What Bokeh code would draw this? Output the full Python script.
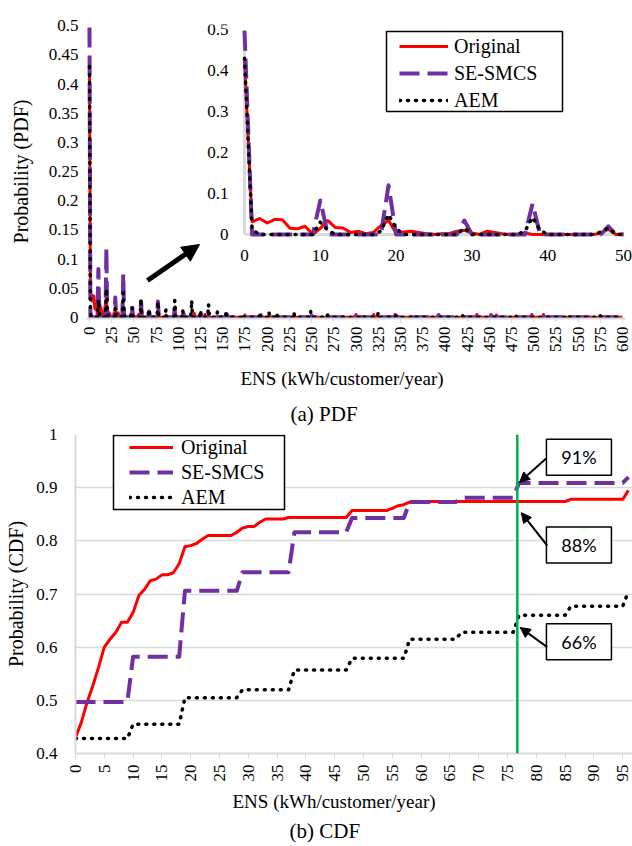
import math
from bokeh.plotting import figure
from bokeh.models import (Range1d, FixedTicker, Legend, LegendItem, Arrow, NormalHead,
                          Span, Title)
from bokeh.core.properties import value
from bokeh.embed import file_html
from bokeh.resources import INLINE

# ---------------- data ----------------
series_names = ["Original", "SE-SMCS", "AEM"]
series_colors = ["#ff0000", "#7030a0", "#000000"]

# (a) PDF: non-zero probability points (ENS, probability); all other ENS values are 0
pdf_ens_max = 600
orig_pdf_ens = [0, 1, 2, 3, 4, 5, 6, 7, 8, 10, 11, 12, 13, 14, 15, 16, 17, 18, 19, 20, 21, 22, 23, 24,
                26, 27, 28, 29, 30, 32, 33, 34, 37, 47, 48, 50, 55, 56, 57, 58, 86, 96, 105, 118, 130,
                175, 211, 250, 300, 320, 344, 436, 458, 498, 511]
orig_pdf_prob = [0.425, 0.031, 0.039, 0.028, 0.037, 0.036, 0.015, 0.014, 0.020, 0.015, 0.034, 0.017,
                 0.016, 0.005, 0.008, 0.002, 0.005, 0.022, 0.035, 0.003, 0.006, 0.008, 0.005, 0.002,
                 0.002, 0.002, 0.008, 0.010, 0.004, 0.008, 0.005, 0.002, 0.004, 0.003, 0.013, 0.002,
                 0.004, 0.006, 0.003, 0.006, 0.004, 0.017, 0.006, 0.007, 0.005,
                 0.004, 0.004, 0.003, 0.005, 0.005, 0.005, 0.005, 0.004, 0.005, 0.005]
se_pdf_ens = [0, 10, 19, 29, 38, 48, 58, 67, 77, 96, 106, 115, 125, 134, 250, 393, 452]
se_pdf_prob = [0.497, 0.083, 0.120, 0.034, 0.075, 0.020, 0.027, 0.010, 0.027, 0.015, 0.006, 0.005,
               0.005, 0.004, 0.003, 0.004, 0.004]
aem_pdf_ens = [0, 1, 10, 11, 18, 19, 20, 29, 37, 38, 39, 47, 48, 58, 67, 77, 86, 96, 105, 115, 125,
               134, 144, 154, 173, 192, 202, 211, 230, 249, 268, 307, 325, 345, 365, 420, 480, 540, 575]
aem_pdf_prob = [0.430, 0.012, 0.030, 0.010, 0.008, 0.049, 0.015, 0.016, 0.008, 0.042, 0.010, 0.006,
                0.016, 0.032, 0.014, 0.027, 0.013, 0.029, 0.012, 0.029, 0.012, 0.022, 0.009, 0.012,
                0.005, 0.009, 0.009, 0.006, 0.009, 0.010, 0.004, 0.003, 0.008, 0.003, 0.003, 0.003,
                0.003, 0.003, 0.003]

pdf_x_ticks = [0, 25, 50, 75, 100, 125, 150, 175, 200, 225, 250, 275, 300, 325, 350, 375, 400,
               425, 450, 475, 500, 525, 550, 575, 600]
pdf_y_ticks = [0, 0.05, 0.1, 0.15, 0.2, 0.25, 0.3, 0.35, 0.4, 0.45, 0.5]
pdf_y_labels = ["0", "0.05", "0.1", "0.15", "0.2", "0.25", "0.3", "0.35", "0.4", "0.45", "0.5"]
inset_ens_max = 50
inset_x_ticks = [0, 10, 20, 30, 40, 50]
inset_x_labels = ["0", "10", "20", "30", "40", "50"]
inset_y_ticks = [0, 0.1, 0.2, 0.3, 0.4, 0.5]
inset_y_labels = ["0", "0.1", "0.2", "0.3", "0.4", "0.5"]

# (b) CDF, ENS = 0..96
cdf_ens = list(range(0, 97))
orig_cdf = [0.430, 0.458, 0.496, 0.527, 0.562, 0.600, 0.615, 0.628, 0.647, 0.647,
            0.665, 0.697, 0.709, 0.725, 0.728, 0.736, 0.736, 0.740, 0.757, 0.789,
            0.791, 0.795, 0.803, 0.810, 0.810, 0.810, 0.810, 0.810, 0.816, 0.824,
            0.827, 0.827, 0.835, 0.841, 0.841, 0.841, 0.841, 0.844, 0.844, 0.844,
            0.844, 0.844, 0.844, 0.844, 0.844, 0.844, 0.844, 0.844, 0.857, 0.857,
            0.857, 0.857, 0.857, 0.857, 0.857, 0.861, 0.866, 0.868, 0.873, 0.874,
            0.874, 0.874, 0.874, 0.874, 0.874, 0.874, 0.874, 0.874, 0.874, 0.874,
            0.874, 0.874, 0.874, 0.874, 0.874, 0.874, 0.874, 0.874, 0.874, 0.874,
            0.874, 0.874, 0.874, 0.874, 0.874, 0.874, 0.878, 0.878, 0.878, 0.878,
            0.878, 0.878, 0.878, 0.878, 0.878, 0.878, 0.895]
se_cdf = [0.497, 0.497, 0.497, 0.497, 0.497, 0.497, 0.497, 0.497, 0.497, 0.497,
          0.582, 0.582, 0.582, 0.582, 0.582, 0.582, 0.582, 0.582, 0.582, 0.706,
          0.706, 0.706, 0.706, 0.706, 0.706, 0.706, 0.706, 0.706, 0.706, 0.741,
          0.741, 0.741, 0.741, 0.741, 0.741, 0.741, 0.741, 0.741, 0.816, 0.816,
          0.816, 0.816, 0.816, 0.816, 0.816, 0.816, 0.816, 0.816, 0.843, 0.843,
          0.843, 0.843, 0.843, 0.843, 0.843, 0.843, 0.843, 0.843, 0.873, 0.873,
          0.873, 0.873, 0.873, 0.873, 0.873, 0.873, 0.873, 0.881, 0.881, 0.881,
          0.881, 0.881, 0.881, 0.881, 0.881, 0.881, 0.881, 0.909, 0.909, 0.909,
          0.909, 0.909, 0.909, 0.909, 0.909, 0.909, 0.909, 0.909, 0.909, 0.909,
          0.909, 0.909, 0.909, 0.909, 0.909, 0.909, 0.920]
aem_cdf = [0.428, 0.428, 0.428, 0.428, 0.428, 0.428, 0.428, 0.428, 0.428, 0.428,
           0.455, 0.455, 0.455, 0.455, 0.455, 0.455, 0.455, 0.455, 0.455, 0.505,
           0.505, 0.505, 0.505, 0.505, 0.505, 0.505, 0.505, 0.505, 0.505, 0.520,
           0.520, 0.520, 0.520, 0.520, 0.520, 0.520, 0.520, 0.520, 0.557, 0.557,
           0.557, 0.557, 0.557, 0.557, 0.557, 0.557, 0.557, 0.557, 0.579, 0.579,
           0.579, 0.579, 0.579, 0.579, 0.579, 0.579, 0.579, 0.579, 0.615, 0.615,
           0.615, 0.615, 0.615, 0.615, 0.615, 0.615, 0.615, 0.628, 0.628, 0.628,
           0.628, 0.628, 0.628, 0.628, 0.628, 0.628, 0.628, 0.660, 0.660, 0.660,
           0.660, 0.660, 0.660, 0.660, 0.660, 0.660, 0.677, 0.677, 0.677, 0.677,
           0.677, 0.677, 0.677, 0.677, 0.677, 0.677, 0.705]
cdf_x_ticks = [0, 5, 10, 15, 20, 25, 30, 35, 40, 45, 50, 55, 60, 65, 70, 75, 80, 85, 90, 95]
cdf_y_ticks = [0.4, 0.5, 0.6, 0.7, 0.8, 0.9, 1.0]
cdf_y_labels = ["0.4", "0.5", "0.6", "0.7", "0.8", "0.9", "1"]

marker_ens = 76.7
callout_labels = ["91%", "88%", "66%"]
callout_box_x = [87.4, 87.4, 87.4]
callout_box_y = [0.957, 0.792, 0.610]
callout_from_x = [81.7, 81.9, 81.9]
callout_from_y = [0.955, 0.791, 0.600]
callout_to_x = [77.1, 77.4, 77.2]
callout_to_y = [0.910, 0.853, 0.637]


def full_series(ens, prob, n):
    vals = [0.0] * (n + 1)
    for e, v in zip(ens, prob):
        vals[e] = v
    return vals


pdf_ens = list(range(0, pdf_ens_max + 1))
pdf_series = [full_series(orig_pdf_ens, orig_pdf_prob, pdf_ens_max),
              full_series(se_pdf_ens, se_pdf_prob, pdf_ens_max),
              full_series(aem_pdf_ens, aem_pdf_prob, pdf_ens_max)]
cdf_series = [orig_cdf, se_cdf, aem_cdf]

SERIF = "Liberation Serif"
GRAY = "#d9d9d9"
line_styles = [dict(line_dash="solid", line_width=3),
               dict(line_dash="20 8", line_width=4),
               dict(line_dash="1 7", line_width=3.5, line_cap="round")]


def style_axes(p, ylab):
    for ax in (p.xaxis[0], p.yaxis[0]):
        ax.major_label_text_font = SERIF
        ax.major_label_text_font_size = "17px"
        ax.major_label_text_color = "black"
        ax.axis_label_text_font = SERIF
        ax.axis_label_text_font_size = "20px"
        ax.axis_label_text_font_style = "normal"
        ax.axis_label_text_color = "black"
    p.yaxis.axis_label = ylab


def px2data(p, fl, fr, ft, fb, px, py):
    xr, yr = p.x_range, p.y_range
    return (xr.start + (px - fl) * (xr.end - xr.start) / (fr - fl),
            yr.end - (py - ft) * (yr.end - yr.start) / (fb - ft))


# ---------------- (a) PDF ----------------
W1, H1 = 632, 426
FL, FR, FT, FB = 86, 632, 24, 318
MX0_PX, MX600_PX = 89, 622          # pixel positions of ENS 0 and 600
mk = (MX600_PX - MX0_PX) / pdf_x_ticks[-1]
p1 = figure(width=W1, height=H1, output_backend="svg", toolbar_location=None,
            x_range=Range1d(-(MX0_PX - FL) / mk, pdf_x_ticks[-1] + (FR - MX600_PX) / mk),
            y_range=Range1d(-0.002, 0.502),
            min_border_left=FL, min_border_right=W1 - FR, min_border_top=FT,
            min_border_bottom=H1 - FB)
p1.outline_line_color = None
p1.grid.visible = False

p1.xaxis.ticker = FixedTicker(ticks=pdf_x_ticks)
p1.xaxis.bounds = (p1.x_range.start, pdf_x_ticks[-1] + 3)
p1.xaxis.major_label_orientation = math.pi / 2
p1.xaxis.axis_line_color = GRAY
p1.xaxis.axis_line_width = 2
p1.xaxis.major_tick_line_color = GRAY
p1.xaxis.major_tick_out = 4
p1.xaxis.major_tick_in = 0
p1.xaxis.minor_tick_line_color = None
p1.xaxis.major_label_standoff = 4
p1.yaxis.ticker = FixedTicker(ticks=pdf_y_ticks)
p1.yaxis.major_label_overrides = {t: l for t, l in zip(pdf_y_ticks, pdf_y_labels)}
p1.yaxis.axis_line_color = None
p1.yaxis.major_tick_line_color = None
p1.yaxis.major_tick_out = 0
p1.yaxis.major_tick_in = 0
p1.yaxis.minor_tick_line_color = None
p1.yaxis.major_label_standoff = 8
p1.yaxis.axis_label_standoff = 14
style_axes(p1, "Probability (PDF)")

main_renderers = []
for vals, col, st in zip(pdf_series, series_colors, line_styles):
    r = p1.line(pdf_ens, vals, line_color=col, line_join="round", **st)
    main_renderers.append(r)

# inset (placed with extra ranges)
IX0_PX, IX50_PX = 244, 623
IY0_PX, IY05_PX = 234, 29
ix_k = (IX50_PX - IX0_PX) / inset_x_ticks[-1]
iy_k = (IY0_PX - IY05_PX) / inset_y_ticks[-1]
p1.extra_x_ranges = {"ix": Range1d(-(IX0_PX - FL) / ix_k, inset_x_ticks[-1] + (FR - IX50_PX) / ix_k)}
p1.extra_y_ranges = {"iy": Range1d(-(FB - IY0_PX) / iy_k, inset_y_ticks[-1] + (IY05_PX - FT) / iy_k)}

p1.segment(x0=[inset_x_ticks[0], inset_x_ticks[0]], y0=[inset_y_ticks[0], inset_y_ticks[0]],
           x1=[inset_x_ticks[0], inset_x_ticks[-1]], y1=[inset_y_ticks[-1], inset_y_ticks[0]],
           line_color=GRAY, line_width=3, x_range_name="ix", y_range_name="iy")
inset_ens = pdf_ens[:inset_ens_max + 1]
inset_renderers = []
for vals, col, st in zip(pdf_series, series_colors, line_styles):
    r = p1.line(inset_ens, vals[:inset_ens_max + 1], line_color=col, line_join="round",
                x_range_name="ix", y_range_name="iy", **st)
    inset_renderers.append(r)
p1.text(x=[inset_x_ticks[0]] * len(inset_y_ticks), y=inset_y_ticks, text=inset_y_labels,
        x_range_name="ix", y_range_name="iy", text_align="right", text_baseline="middle",
        x_offset=-16, text_font=value(SERIF), text_font_size="17px", text_color="black")
p1.text(x=inset_x_ticks, y=[inset_y_ticks[0]] * len(inset_x_ticks), text=inset_x_labels,
        x_range_name="ix", y_range_name="iy", text_align="center", text_baseline="middle",
        y_offset=21, text_font=value(SERIF), text_font_size="17px", text_color="black")

# arrow pointing to inset
ax0, ay0 = px2data(p1, FL, FR, FT, FB, 147, 280)
ax1, ay1 = px2data(p1, FL, FR, FT, FB, 199, 244)
p1.add_layout(Arrow(end=NormalHead(size=17, fill_color="black", line_color="black"),
                    x_start=ax0, y_start=ay0, x_end=ax1, y_end=ay1,
                    line_color="black", line_width=5))

# legend box + legend (box: x 386-562, y 31-111)
bx, by = px2data(p1, FL, FR, FT, FB, 474, 71)
p1.rect(x=[bx], y=[by], width=176, height=80, width_units="screen", height_units="screen",
        fill_color="white", line_color="black", line_width=1.5)
leg1 = Legend(items=[LegendItem(label=n, renderers=[r]) for n, r in zip(series_names, inset_renderers)],
              location=(399 - FL, FB - 112), margin=0, padding=4, spacing=3,
              label_text_font=SERIF, label_text_font_size="20px", label_text_color="black",
              glyph_width=49, glyph_height=24, label_height=24, label_standoff=6,
              border_line_color=None, background_fill_alpha=0)
p1.add_layout(leg1)

p1.add_layout(Title(text="ENS (kWh/customer/year)", align="left", offset=154, text_font=SERIF,
                    text_font_size="19px", text_font_style="normal", text_color="black",
                    standoff=21), "below")
p1.add_layout(Title(text="(a) PDF", align="left", offset=204, text_font=SERIF,
                    text_font_size="21px", text_font_style="normal", text_color="black",
                    standoff=0), "below")

# ---------------- (b) CDF ----------------
W2, H2 = 632, 846 - H1
GL, GR = 75, 632
GT, GB = 434 - H1, 753 - H1
p2 = figure(width=W2, height=H2, output_backend="svg", toolbar_location=None,
            x_range=Range1d(0, 96.7), y_range=Range1d(0.4, 1.0),
            min_border_left=GL, min_border_right=W2 - GR, min_border_top=GT,
            min_border_bottom=H2 - GB)
p2.outline_line_color = None
p2.xgrid.visible = False
p2.ygrid.ticker = FixedTicker(ticks=cdf_y_ticks)
p2.ygrid.grid_line_color = GRAY
p2.ygrid.grid_line_width = 1.5
p2.xaxis.ticker = FixedTicker(ticks=cdf_x_ticks)
p2.xaxis.major_label_orientation = math.pi / 2
p2.xaxis.axis_line_color = GRAY
p2.xaxis.axis_line_width = 2
p2.xaxis.major_tick_line_color = GRAY
p2.xaxis.major_tick_out = 5
p2.xaxis.major_tick_in = 0
p2.xaxis.minor_tick_line_color = None
p2.xaxis.major_label_standoff = 6
p2.yaxis.ticker = FixedTicker(ticks=cdf_y_ticks)
p2.yaxis.major_label_overrides = {t: l for t, l in zip(cdf_y_ticks, cdf_y_labels)}
p2.yaxis.axis_line_color = GRAY
p2.yaxis.axis_line_width = 2
p2.yaxis.major_tick_line_color = None
p2.yaxis.major_tick_out = 0
p2.yaxis.major_tick_in = 0
p2.yaxis.minor_tick_line_color = None
p2.yaxis.major_label_standoff = 18
p2.yaxis.axis_label_standoff = 6
style_axes(p2, "Probability (CDF)")

cdf_renderers = []
for vals, col, st in zip(cdf_series, series_colors, line_styles):
    r = p2.line(cdf_ens, vals, line_color=col, line_join="round", **st)
    cdf_renderers.append(r)

p2.add_layout(Span(location=marker_ens, dimension="height", line_color="#00b050", line_width=2.5))

for fx, fy, tx, ty in zip(callout_from_x, callout_from_y, callout_to_x, callout_to_y):
    p2.add_layout(Arrow(end=NormalHead(size=10, fill_color="black", line_color="black"),
                        x_start=fx, y_start=fy, x_end=tx, y_end=ty,
                        line_color="black", line_width=2))
p2.rect(x=callout_box_x, y=callout_box_y, width=65, height=36, width_units="screen",
        height_units="screen", fill_color="white", line_color="black", line_width=1.5)
p2.text(x=callout_box_x, y=callout_box_y, text=callout_labels, text_align="center",
        text_baseline="middle", text_font=value("Lato"), text_font_size="18px", text_color="black")

# legend box + legend (box page x 113-284, y 435-509)
cbx, cby = px2data(p2, GL, GR, GT, GB, 198.5, 472 - H1)
p2.rect(x=[cbx], y=[cby], width=171, height=74, width_units="screen", height_units="screen",
        fill_color="white", line_color="black", line_width=1.5)
leg2 = Legend(items=[LegendItem(label=n, renderers=[r]) for n, r in zip(series_names, cdf_renderers)],
              location=(129 - GL, 753 - 509), margin=0, padding=2, spacing=1,
              label_text_font=SERIF, label_text_font_size="20px", label_text_color="black",
              glyph_width=44, glyph_height=24, label_height=24, label_standoff=8,
              border_line_color=None, background_fill_alpha=0)
p2.add_layout(leg2)

p2.add_layout(Title(text="ENS (kWh/customer/year)", align="left", offset=157, text_font=SERIF,
                    text_font_size="19px", text_font_style="normal", text_color="black",
                    standoff=9), "below")
p2.add_layout(Title(text="(b) CDF", align="left", offset=214, text_font=SERIF,
                    text_font_size="21px", text_font_style="normal", text_color="black",
                    standoff=0), "below")

open("out.html", "w").write(file_html([p1, p2], INLINE))
